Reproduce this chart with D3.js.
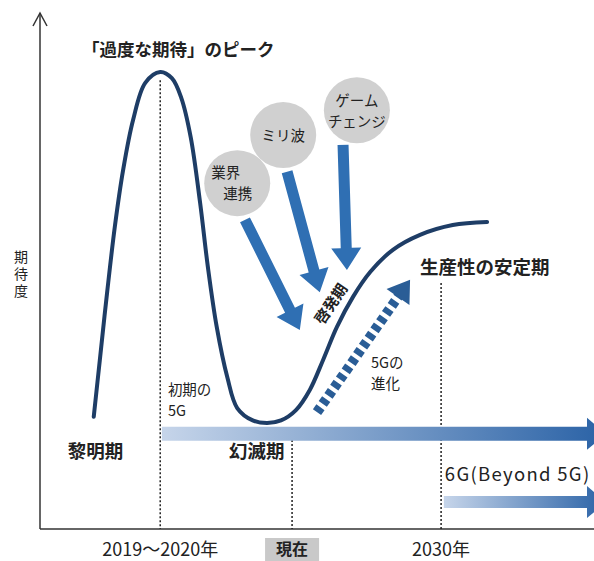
<!DOCTYPE html>
<html>
<head>
<meta charset="utf-8">
<script src="https://cdn.jsdelivr.net/npm/d3@7"></script>
<style>
  body { margin: 0; background: #fff; }
  text { font-family: "Noto Sans CJK JP", "Noto Sans", sans-serif; fill: #222; }
</style>
</head>
<body>
<div id="chart"></div>
<script>
// hype cycle curve: time (0-100) vs expectation (0-100)
var curveX = [9.7, 10.8, 12.1, 13.5, 15.0, 16.8, 19.0, 21.7, 23.8, 25.5, 27.2, 28.9, 30.3, 31.9, 33.8, 35.6, 38.4, 41.0, 43.5, 46.2, 48.7, 51.1, 53.6, 56.5, 59.6, 63.7, 68.6, 74.5, 80.7];
var curveY = [21.7, 32.7, 45.6, 58.4, 69.4, 79.1, 86.3, 88.4, 87.2, 83.4, 75.8, 63.1, 50.7, 39.1, 29.4, 23.4, 21.0, 20.5, 21.0, 23.0, 26.9, 32.7, 39.1, 44.9, 49.7, 54.0, 56.9, 58.8, 59.4];

// period boundaries (dashed lines) and tick labels
var periodX = [21.7, 45.5, 72.4];
var periodTop = [86.8, 17.2, 47.6];
var tickLabels = ["2019\u301c2020年", "現在", "2030年"];

// drivers (circles) and their arrows
var driverNames = [["業界", "連携"], ["ミリ波"], ["ゲーム", "チェンジ"]];
var driverX = [35.6, 43.9, 57.2];
var driverY = [66.9, 76.2, 81.0];
var driverArrowFrom = [[37.0, 59.8], [44.6, 69.1], [54.7, 74.3]];
var driverArrowTo = [[46.9, 38.5], [50.5, 45.8], [55.4, 50.1]];

// 5G evolution dashed arrow
var evoFrom = [50.0, 22.6];
var evoTo = [66.8, 48.2];

// generation bands
var bandNames = ["初期の5G", "6G(Beyond 5G)"];
var bandStart = [22.0, 72.9];
var bandY = [18.4, 5.2];

// phase labels
var phaseNames = ["「過度な期待」のピーク", "黎明期", "幻滅期", "生産性の安定期", "啓発期"];
var phaseX = [7.6, 5.0, 34.1, 68.6, 52.6];
var phaseY = [92.6, 14.9, 14.9, 50.5, 43.5];

var W = 594, H = 561;
var x = d3.scaleLinear().domain([0, 100]).range([40, 594]);
var y = d3.scaleLinear().domain([0, 100]).range([529, 12]);

var svg = d3.select("#chart").append("svg")
    .attr("width", W).attr("height", H);

var defs = svg.append("defs");
var grad = defs.append("linearGradient").attr("id", "bandGrad")
    .attr("x1", "0%").attr("x2", "100%").attr("y1", "0%").attr("y2", "0%");
grad.append("stop").attr("offset", "0%").attr("stop-color", "#c6d5ea");
grad.append("stop").attr("offset", "100%").attr("stop-color", "#2a62a6");

function arrowPath(x1, y1, x2, y2, w, hw, hl) {
    var dx = x2 - x1, dy = y2 - y1, len = Math.sqrt(dx * dx + dy * dy);
    var ux = dx / len, uy = dy / len, nx = -uy, ny = ux;
    var bx = x2 - ux * hl, by = y2 - uy * hl;
    var p = [
        [x1 + nx * w / 2, y1 + ny * w / 2],
        [bx + nx * w / 2, by + ny * w / 2],
        [bx + nx * hw / 2, by + ny * hw / 2],
        [x2, y2],
        [bx - nx * hw / 2, by - ny * hw / 2],
        [bx - nx * w / 2, by - ny * w / 2],
        [x1 - nx * w / 2, y1 - ny * w / 2]
    ];
    return "M" + p.map(function(d) { return d.join(","); }).join("L") + "Z";
}

// axes
svg.append("line").attr("x1", x(0)).attr("x2", x(0)).attr("y1", y(100) + 1).attr("y2", y(0))
    .attr("stroke", "#333").attr("stroke-width", 1.5);
svg.append("path").attr("d", `M${x(0) - 7},${y(100) + 14}L${x(0)},${y(100) + 1}L${x(0) + 7},${y(100) + 14}`)
    .attr("fill", "none").attr("stroke", "#333").attr("stroke-width", 1.5);
svg.append("line").attr("x1", x(0)).attr("x2", x(100)).attr("y1", y(0)).attr("y2", y(0))
    .attr("stroke", "#333").attr("stroke-width", 1.5);

// y label (vertical)
svg.append("text").attr("x", 21).attr("y", 250)
    .attr("font-size", 14).attr("fill", "#333")
    .style("writing-mode", "vertical-rl").style("letter-spacing", "3px")
    .text("期待度");

// dashed period lines
svg.selectAll(".period").data(periodX).enter().append("line")
    .attr("x1", function(d) { return x(d); }).attr("x2", function(d) { return x(d); })
    .attr("y1", function(d, i) { return y(periodTop[i]); }).attr("y2", y(0))
    .attr("stroke", "#222").attr("stroke-width", 1.5).attr("stroke-dasharray", "2,2");

// tick labels
tickLabels.forEach(function(t, i) {
    var now = t === "現在";
    if (now) {
        svg.append("rect").attr("x", x(periodX[i]) - 27).attr("y", 538)
            .attr("width", 54).attr("height", 23).attr("fill", "#c9c9c9");
    }
    svg.append("text").attr("x", x(periodX[i])).attr("y", now ? 555 : 556)
        .attr("text-anchor", "middle").attr("font-size", now ? 16 : 18)
        .attr("font-weight", now ? "bold" : "normal")
        .attr("fill", "#333").text(t);
});

// generation bands
bandStart.forEach(function(s, i) {
    var cy = y(bandY[i]);
    var h = i === 0 ? 14 : 12;
    svg.append("path")
        .attr("d", arrowPath(x(s), cy, 606, cy, h, 32, 19))
        .attr("fill", "url(#bandGrad)");
});

// hype curve
var pts = curveX.map(function(d, i) { return [d, curveY[i]]; });
var line = d3.line()
    .x(function(d) { return x(d[0]); })
    .y(function(d) { return y(d[1]); })
    .curve(d3.curveCatmullRom.alpha(0.5));
svg.append("path").datum(pts).attr("d", line)
    .attr("fill", "none").attr("stroke", "#1e3d66").attr("stroke-width", 4)
    .attr("stroke-linecap", "round");

// driver circles
driverX.forEach(function(d, i) {
    svg.append("circle").attr("cx", x(d)).attr("cy", y(driverY[i])).attr("r", 33)
        .attr("fill", "#d0d0d0");
});

// driver arrows
driverArrowFrom.forEach(function(f, i) {
    var t = driverArrowTo[i];
    svg.append("path")
        .attr("d", arrowPath(x(f[0]), y(f[1]), x(t[0]), y(t[1]), 11, 30, 22))
        .attr("fill", "#2f6fb3");
});

// driver names
driverNames.forEach(function(lines, i) {
    var cx = x(driverX[i]), cy = y(driverY[i]);
    var fs = 14.5;
    function put(tx, ty, s, anchor) {
        svg.append("text").attr("x", tx).attr("y", ty).attr("font-size", fs)
            .attr("text-anchor", anchor).attr("fill", "#222").text(s);
    }
    if (lines.length === 1) {
        put(cx, cy + 6, lines[0], "middle");
    } else if (i === 0) {
        put(cx - 26, cy - 5, lines[0], "start");
        put(cx - 14, cy + 16, lines[1], "start");
    } else {
        put(cx, cy - 4, lines[0], "middle");
        put(cx, cy + 17, lines[1], "middle");
    }
});

// 5G evolution dashed arrow
var ex1 = x(evoFrom[0]), ey1 = y(evoFrom[1]), ex2 = x(evoTo[0]), ey2 = y(evoTo[1]);
var elen = Math.hypot(ex2 - ex1, ey2 - ey1);
var eux = (ex2 - ex1) / elen, euy = (ey2 - ey1) / elen;
svg.append("line").attr("x1", ex1).attr("y1", ey1)
    .attr("x2", ex2 - eux * 20).attr("y2", ey2 - euy * 20)
    .attr("stroke", "#2a5d96").attr("stroke-width", 10).attr("stroke-dasharray", "6,4");
svg.append("path").attr("d", arrowPath(ex2 - eux * 21, ey2 - euy * 21, ex2, ey2, 0, 28, 21))
    .attr("fill", "#2a5d96");

// small text labels
function twoLine(tx, ty, a, b) {
    [a, b].forEach(function(s, k) {
        svg.append("text").attr("x", tx).attr("y", ty + k * 21)
            .attr("font-size", 14.5).attr("fill", "#444").text(s);
    });
}
twoLine(x(bandStart[0]) + 6, 395, "初期の", "5G");
twoLine(371, 368, "5Gの", "進化");
svg.append("text").attr("x", x(bandStart[1]) + 1).attr("y", 481)
    .attr("font-size", 18.5).attr("fill", "#333")
    .style("letter-spacing", "1.3px").text(bandNames[1]);

// phase labels
phaseNames.forEach(function(p, i) {
    var px = x(phaseX[i]), py = y(phaseY[i]);
    var t = svg.append("text").attr("font-weight", "bold").attr("fill", "#111");
    if (i === 4) {
        t.attr("font-size", 15).attr("text-anchor", "middle")
            .attr("transform", `translate(${px},${py}) rotate(-56)`)
            .attr("dy", 5).text(p);
    } else {
        t.attr("x", px).attr("y", py + 6)
            .attr("font-size", i === 0 ? 17.5 : 18.5).text(p);
    }
});
</script>
</body>
</html>
